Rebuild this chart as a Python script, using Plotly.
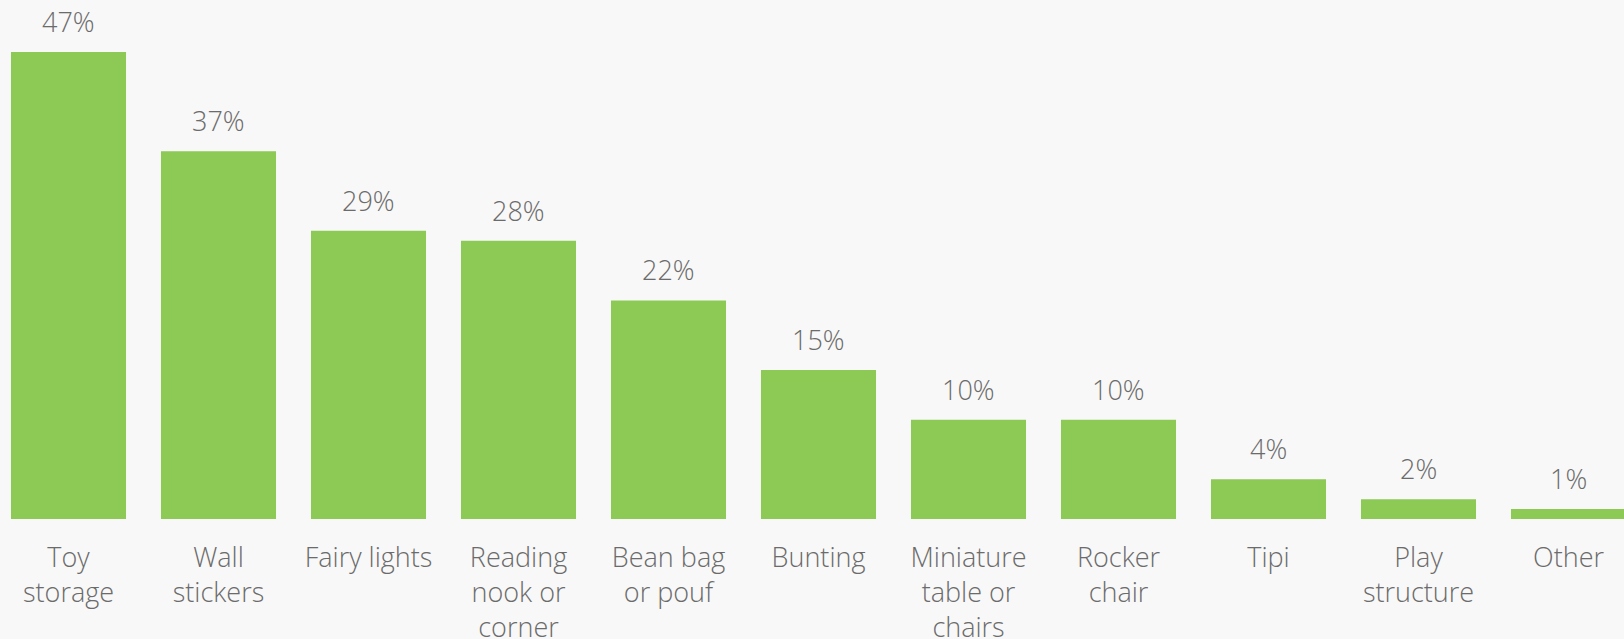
import plotly.graph_objects as go

categories = ["Toy<br>storage", "Wall<br>stickers", "Fairy lights", "Reading<br>nook or<br>corner",
              "Bean bag<br>or pouf", "Bunting", "Miniature<br>table or<br>chairs", "Rocker<br>chair",
              "Tipi", "Play<br>structure", "Other"]
values = [47, 37, 29, 28, 22, 15, 10, 10, 4, 2, 1]
value_labels = [f"{v}%" for v in values]

GREEN = "#8cc955"
TEXT = "#6b6b6b"
BG = "#f8f8f8"
FONT = "Open Sans"

fig = go.Figure(go.Bar(
    x=list(range(len(categories))), y=values,
    marker=dict(color=GREEN, line=dict(width=0)),
    hoverinfo="skip",
))

for i, (v, lab) in enumerate(zip(values, value_labels)):
    fig.add_annotation(x=i, y=v, text=lab, showarrow=False, yanchor="bottom",
                       yshift=10, font=dict(family=FONT, size=27, color=TEXT, weight=300))

fig.update_layout(
    width=1624, height=639,
    margin=dict(l=0, r=0, t=0, b=120, autoexpand=False),
    paper_bgcolor=BG, plot_bgcolor=BG,
    bargap=0.233,
    showlegend=False,
    xaxis=dict(
        tickmode="array", tickvals=list(range(len(categories))), ticktext=categories,
        range=[-0.4567, 10.37], showgrid=False, zeroline=False, showline=False,
        ticks="", ticklabelstandoff=20, automargin=False,
        tickfont=dict(family=FONT, size=27, color=TEXT, weight=300),
    ),
    yaxis=dict(range=[0, 52.23], visible=False, showgrid=False, zeroline=False, automargin=False),
)

fig.write_html("out.html", config={"displayModeBar": False},
               post_script="document.body.style.margin='0px';document.body.style.overflow='hidden';document.body.style.background='#f8f8f8';")
